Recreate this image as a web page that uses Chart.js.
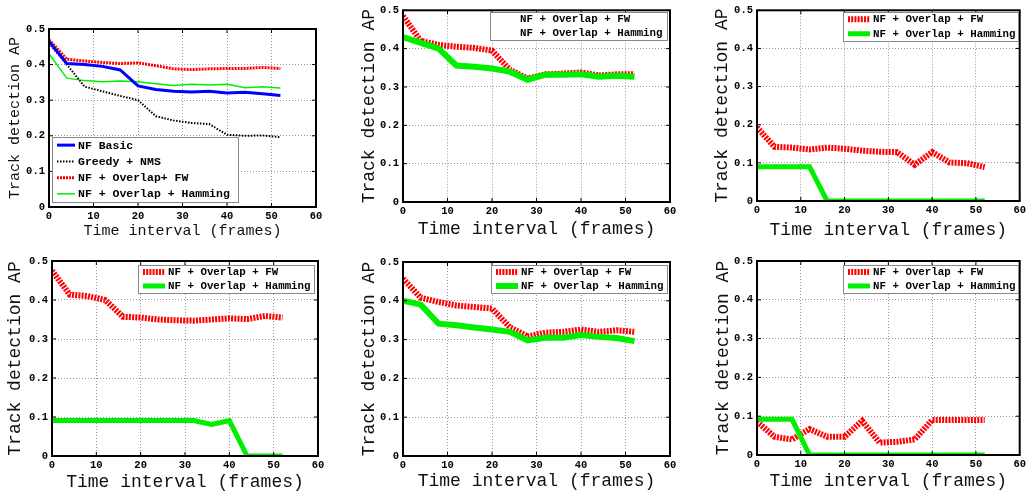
<!DOCTYPE html>
<html>
<head>
<meta charset="utf-8">
<script src="https://cdn.jsdelivr.net/npm/chart.js@4"></script>
<style>
    html, body { margin: 0; padding: 0; background: #fff; }
    body { position: relative; width: 1029px; height: 495px; overflow: hidden; }
    canvas { position: absolute; }
</style>
</head>
<body>
<script>
// --- Data (AP per time interval) ---
const frames = [0, 4, 8, 12, 16, 20, 24, 28, 32, 36, 40, 44, 48, 52];
const xTicks = [0, 10, 20, 30, 40, 50, 60];
const yTicks = [0, 0.1, 0.2, 0.3, 0.4, 0.5];

const p1Basic   = [0.465, 0.403, 0.400, 0.395, 0.385, 0.340, 0.330, 0.325, 0.323, 0.325, 0.320, 0.322, 0.318, 0.313];
const p1Greedy  = [0.460, 0.400, 0.338, 0.325, 0.312, 0.300, 0.255, 0.243, 0.236, 0.233, 0.203, 0.200, 0.201, 0.196];
const p1FW      = [0.470, 0.415, 0.410, 0.406, 0.403, 0.405, 0.397, 0.388, 0.386, 0.388, 0.389, 0.389, 0.392, 0.389];
const p1Hamming = [0.430, 0.362, 0.355, 0.352, 0.354, 0.352, 0.346, 0.341, 0.345, 0.343, 0.345, 0.335, 0.338, 0.334];

const p2FW      = [0.485, 0.420, 0.410, 0.405, 0.402, 0.395, 0.345, 0.322, 0.333, 0.335, 0.338, 0.330, 0.333, 0.333];
const p2Hamming = [0.430, 0.415, 0.400, 0.356, 0.353, 0.348, 0.340, 0.319, 0.332, 0.332, 0.333, 0.327, 0.329, 0.327];

const p3FW      = [0.193, 0.142, 0.140, 0.135, 0.140, 0.137, 0.132, 0.129, 0.128, 0.095, 0.128, 0.101, 0.099, 0.089];
const p3Hamming = [0.090, 0.090, 0.090, 0.090, 0, 0, 0, 0, 0, 0, 0, 0, 0, 0];

const p4FW      = [0.475, 0.414, 0.410, 0.400, 0.357, 0.355, 0.350, 0.348, 0.347, 0.350, 0.353, 0.351, 0.359, 0.355];
const p4Hamming = [0.091, 0.091, 0.091, 0.091, 0.091, 0.091, 0.091, 0.091, 0.091, 0.081, 0.091, 0, 0, 0];

const p5FW      = [0.457, 0.408, 0.397, 0.388, 0.384, 0.380, 0.332, 0.308, 0.318, 0.320, 0.326, 0.320, 0.324, 0.320];
const p5Hamming = [0.400, 0.390, 0.341, 0.337, 0.331, 0.326, 0.320, 0.298, 0.305, 0.305, 0.312, 0.307, 0.304, 0.296];

const p6FW      = [0.086, 0.047, 0.040, 0.067, 0.047, 0.047, 0.088, 0.032, 0.034, 0.040, 0.090, 0.090, 0.090, 0.090];
const p6Hamming = [0.092, 0.092, 0.092, 0, 0, 0, 0, 0, 0, 0, 0, 0, 0, 0];

const LBL_BASIC = 'NF Basic';
const LBL_GREEDY = 'Greedy + NMS';
const LBL_FW = 'NF + Overlap + FW';
const LBL_FW1 = 'NF + Overlap+ FW';
const LBL_HAM = 'NF + Overlap + Hamming';

const MONO = "'Liberation Mono', 'DejaVu Sans Mono', monospace";

const pts = vals => frames.map((f, i) => ({ x: f, y: vals[i] }));

// helper to build line datasets
function redFW(label, vals, width) {
    return { label, data: pts(vals), borderColor: '#ff0000', borderWidth: width,
             borderDash: [2, 1.2], order: 1 };
}
function greenHam(vals, width) {
    return { label: LBL_HAM, data: pts(vals), borderColor: '#00ee00', borderWidth: width, order: 0 };
}

// --- Panel layout (absolute pixel positions in the page) ---
const panels = [
    { box: [0, 0, 330, 248], plot: [49, 316, 29, 207], yTitleX: 15, xTitleY: 231, titleSize: 15,
      legend: { rect: [52, 137, 238, 202], font: 11.5, sample: [5, 23], text: 26, samples: true },
      datasets: [
          { label: LBL_BASIC, data: pts(p1Basic), borderColor: '#0000ff', borderWidth: 3 },
          { label: LBL_GREEDY, data: pts(p1Greedy), borderColor: '#000000', borderWidth: 2, borderDash: [1.5, 1.5] },
          { label: LBL_FW1, data: pts(p1FW), borderColor: '#ff0000', borderWidth: 3, borderDash: [2, 1] },
          { label: LBL_HAM, data: pts(p1Hamming), borderColor: '#00ee00', borderWidth: 1.5 }
      ] },
    { box: [335, 0, 345, 248], plot: [403, 670, 7, 202], yTitleX: 369, xTitleY: 229, titleSize: 18,
      legend: { rect: [490, 12, 667, 40], font: 10.8, sample: [5, 27], text: 30, samples: false },
      datasets: [ redFW(LBL_FW, p2FW, 6), greenHam(p2Hamming, 6) ] },
    { box: [685, 0, 344, 248], plot: [757, 1022, 7, 201], yTitleX: 722, xTitleY: 230, titleSize: 18,
      legend: { rect: [843, 12, 1018, 41], font: 10.8, sample: [5, 27], text: 30, samples: true },
      datasets: [ redFW(LBL_FW, p3FW, 6), greenHam(p3Hamming, 5) ] },
    { box: [0, 250, 330, 245], plot: [52, 318, 261, 456], yTitleX: 15, xTitleY: 482, titleSize: 18,
      legend: { rect: [138, 265, 314, 293], font: 10.8, sample: [5, 27], text: 30, samples: true },
      datasets: [ redFW(LBL_FW, p4FW, 6), greenHam(p4Hamming, 5) ] },
    { box: [335, 250, 345, 245], plot: [403, 670, 262, 456], yTitleX: 369, xTitleY: 481, titleSize: 18,
      legend: { rect: [491, 265, 667, 293], font: 10.8, sample: [5, 27], text: 30, samples: true },
      datasets: [ redFW(LBL_FW, p5FW, 6), greenHam(p5Hamming, 6) ] },
    { box: [685, 250, 344, 245], plot: [757, 1022, 261, 455], yTitleX: 723, xTitleY: 481, titleSize: 18,
      legend: { rect: [843, 265, 1018, 293], font: 10.8, sample: [5, 27], text: 30, samples: true },
      datasets: [ redFW(LBL_FW, p6FW, 6), greenHam(p6Hamming, 5) ] }
];

// Box around the axes with inward tick marks (MATLAB style)
const axesBox = {
    id: 'axesBox',
    afterDatasetsDraw(chart) {
        const { ctx, chartArea: a, scales } = chart;
        ctx.save();
        ctx.strokeStyle = '#000';
        ctx.lineWidth = 1;
        const tl = 4;
        xTicks.forEach(v => {
            const px = scales.x.getPixelForValue(v);
            ctx.beginPath();
            ctx.moveTo(px, a.bottom); ctx.lineTo(px, a.bottom - tl);
            ctx.moveTo(px, a.top); ctx.lineTo(px, a.top + tl);
            ctx.stroke();
        });
        yTicks.forEach(v => {
            const py = scales.y.getPixelForValue(v);
            ctx.beginPath();
            ctx.moveTo(a.left, py); ctx.lineTo(a.left + tl, py);
            ctx.moveTo(a.right, py); ctx.lineTo(a.right - tl, py);
            ctx.stroke();
        });
        ctx.lineWidth = 2;
        ctx.strokeRect(a.left, a.top, a.right - a.left, a.bottom - a.top);
        ctx.restore();
    }
};

// Legend drawn inside the plot area
const boxLegend = {
    id: 'boxLegend',
    afterDraw(chart, args, opts) {
        if (!opts.rect) return;
        const { ctx } = chart;
        const [x1, y1, x2, y2] = opts.rect;
        const ox = opts.origin[0], oy = opts.origin[1];
        const L = x1 - ox, T = y1 - oy, W = x2 - x1, H = y2 - y1;
        const sets = chart.data.datasets;
        ctx.save();
        ctx.fillStyle = '#fff';
        ctx.fillRect(L, T, W, H);
        ctx.strokeStyle = '#888';
        ctx.lineWidth = 1;
        ctx.strokeRect(L + 0.5, T + 0.5, W, H);
        const rowH = H / sets.length;
        ctx.font = 'bold ' + opts.font + 'px ' + MONO;
        ctx.textBaseline = 'middle';
        sets.forEach((ds, i) => {
            const cy = T + (i + 0.5) * rowH;
            if (opts.samples) {
                ctx.beginPath();
                ctx.strokeStyle = ds.borderColor;
                ctx.lineWidth = ds.borderWidth;
                ctx.setLineDash(ds.borderDash || []);
                ctx.moveTo(L + opts.sample[0], cy);
                ctx.lineTo(L + opts.sample[1], cy);
                ctx.stroke();
                ctx.setLineDash([]);
            }
            ctx.fillStyle = '#000';
            ctx.fillText(ds.label, L + opts.text, cy + 0.5);
        });
        ctx.restore();
    }
};

panels.forEach(p => {
    const [x0, y0, w, h] = p.box;
    const [L, R, T, B] = p.plot;
    const lh = p.titleSize * 1.2;

    const canvas = document.createElement('canvas');
    canvas.width = w;
    canvas.height = h;
    canvas.style.left = x0 + 'px';
    canvas.style.top = y0 + 'px';
    canvas.style.width = w + 'px';
    canvas.style.height = h + 'px';
    document.body.appendChild(canvas);

    const titleFont = { family: MONO, size: p.titleSize, weight: 'normal' };
    const tickFont = { family: MONO, size: 10.5, weight: 'bold' };

    new Chart(canvas, {
        type: 'line',
        data: { datasets: p.datasets },
        plugins: [axesBox, boxLegend],
        options: {
            responsive: false,
            animation: false,
            devicePixelRatio: 1,
            layout: { padding: { left: 0, top: T - y0, right: x0 + w - R, bottom: 0 } },
            elements: { point: { radius: 0 }, line: { tension: 0, borderCapStyle: 'butt', borderJoinStyle: 'miter' } },
            plugins: {
                legend: { display: false },
                tooltip: { enabled: false },
                boxLegend: Object.assign({ origin: [x0, y0] }, p.legend)
            },
            scales: {
                x: {
                    type: 'linear', min: 0, max: 60,
                    afterFit: s => { s.height = y0 + h - B; },
                    ticks: { stepSize: 10, font: tickFont, color: '#000', padding: 3, maxRotation: 0 },
                    grid: { color: '#999', drawTicks: false, lineWidth: 1 },
                    border: { display: false, dash: [1, 2] },
                    title: { display: true, text: 'Time interval (frames)', color: '#111', font: titleFont,
                             padding: { top: 0, bottom: (y0 + h - p.xTitleY) - lh / 2 } }
                },
                y: {
                    type: 'linear', min: 0, max: 0.5,
                    afterFit: s => { s.width = L - x0; },
                    ticks: { stepSize: 0.1, font: tickFont, color: '#000', padding: 4 },
                    grid: { color: '#999', drawTicks: false, lineWidth: 1 },
                    border: { display: false, dash: [1, 2] },
                    title: { display: true, text: 'Track detection AP', color: '#111', font: titleFont,
                             padding: { top: (p.yTitleX - x0) - lh / 2, bottom: 0 } }
                }
            }
        }
    });
});
</script>
</body>
</html>
